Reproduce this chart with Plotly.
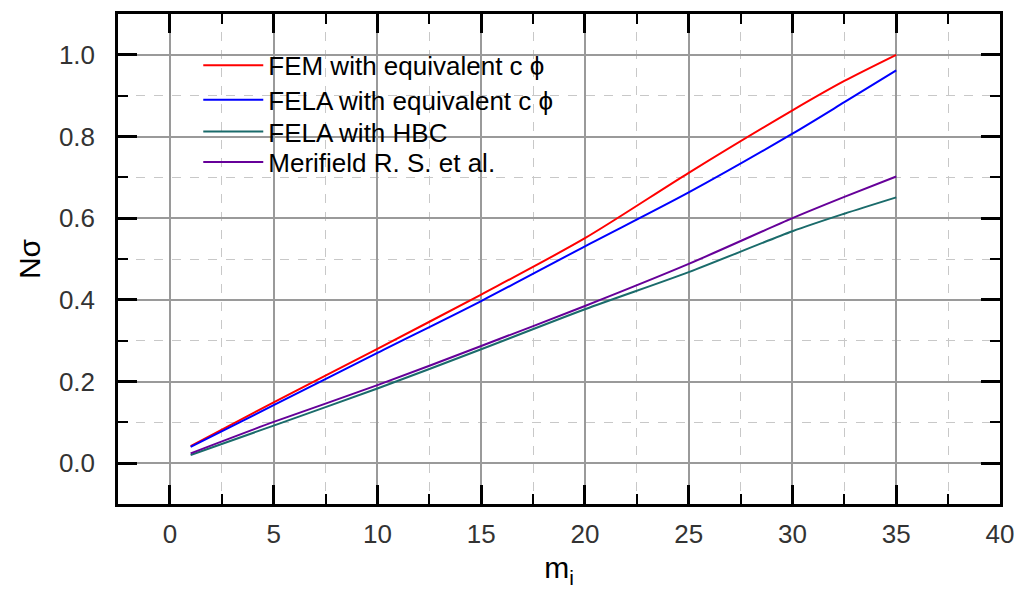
import plotly.graph_objects as go

# Data
mi = [1, 5, 10, 15, 20, 25, 30, 32.5, 35]
fem_eq = [0.042, 0.149, 0.280, 0.413, 0.551, 0.711, 0.864, 0.936, 1.000]
fela_eq = [0.040, 0.142, 0.270, 0.397, 0.531, 0.663, 0.807, 0.884, 0.962]
fela_hbc = [0.020, 0.092, 0.183, 0.279, 0.377, 0.468, 0.568, 0.611, 0.651]
merifield = [0.024, 0.101, 0.191, 0.287, 0.385, 0.488, 0.600, 0.652, 0.702]

series_names = ["FEM with equivalent c \u03d5", "FELA with equivalent c \u03d5",
                "FELA with HBC", "Merifield R. S. et al."]
series_values = [fem_eq, fela_eq, fela_hbc, merifield]
series_colors = ["#ff0000", "#0000ff", "#1a6b6b", "#660099"]
legend_ids = ["legend", "legend2", "legend3", "legend4"]
legend_rows_y = [0.895, 0.825, 0.760, 0.698]

font_family = "Liberation Sans, Arial, sans-serif"

fig = go.Figure()
for name, vals, col, lid in zip(series_names, series_values, series_colors, legend_ids):
    fig.add_trace(go.Scatter(x=mi, y=vals, name=name, mode="lines", legend=lid,
                             line=dict(color=col, width=2, shape="spline", smoothing=0.8)))

axis_common = dict(
    showline=True, linecolor="black", linewidth=2.5, mirror="allticks",
    ticks="inside", ticklen=19, tickwidth=2.5, tickcolor="black",
    showgrid=True, gridcolor="#9a9a9a", gridwidth=1.5,
    zeroline=False,
    tickfont=dict(family=font_family, size=26, color="#333333"),
)

fig.update_xaxes(
    range=[-2.5, 40], tick0=0, dtick=5,
    ticklabelstandoff=5,
    minor=dict(dtick=2.5, tick0=0, ticklen=10, tickwidth=2, tickcolor="black",
               ticks="inside", showgrid=True, gridcolor="#c8c8c8", griddash="dash", gridwidth=1),
    title=dict(text="m<sub>i</sub>", font=dict(family=font_family, size=30, color="black"), standoff=10),
    **axis_common,
)
fig.update_yaxes(
    range=[-0.1, 1.1], tick0=0, dtick=0.2, tickformat=".1f",
    ticklabelstandoff=15,
    minor=dict(dtick=0.1, tick0=0, ticklen=10, tickwidth=2, tickcolor="black",
               ticks="inside", showgrid=True, gridcolor="#c8c8c8", griddash="dash", gridwidth=1),
    title=dict(text="N\u03c3", font=dict(family=font_family, size=30, color="black"), standoff=10),
    **axis_common,
)

legend_style = dict(x=0.091, xanchor="left", yanchor="middle",
                    bgcolor="rgba(0,0,0,0)", borderwidth=0,
                    font=dict(family=font_family, size=26, color="black"),
                    itemwidth=60)

fig.update_layout(
    width=1011, height=592,
    margin=dict(l=110, r=19, t=3, b=96),
    paper_bgcolor="white", plot_bgcolor="white",
    font=dict(family=font_family),
    showlegend=True,
)
for lid, ly in zip(legend_ids, legend_rows_y):
    fig.update_layout({lid: dict(y=ly, **legend_style)})

fig.write_html("out.html")
